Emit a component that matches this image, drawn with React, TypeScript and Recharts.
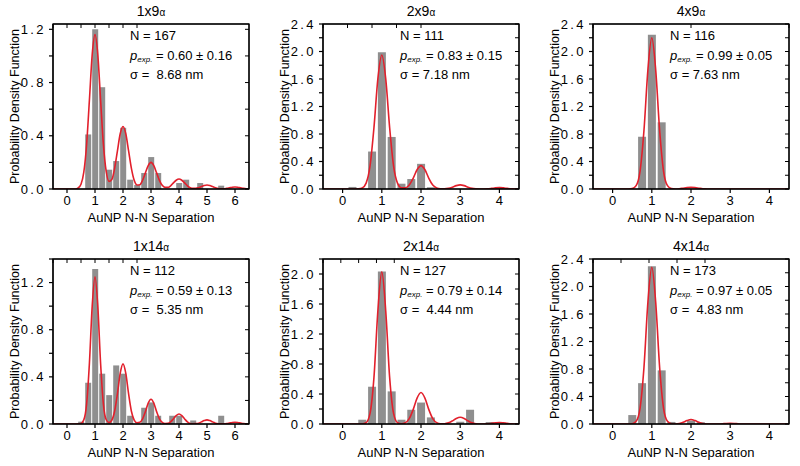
import React from 'react';
import { ComposedChart, Bar, Line, XAxis, YAxis } from 'recharts';

const FONT = '"Liberation Sans", Arial, sans-serif';

// histogram bins (centres) and heights
const bins1x9 = [0.75, 1, 1.25, 1.5, 1.75, 2, 2.25, 2.5, 2.75, 3, 3.25, 4, 4.25, 4.75, 5.5];
const pdf1x9 = [0.41, 1.2, 0.765, 0.145, 0.21, 0.46, 0.07, 0.03, 0.12, 0.24, 0.12, 0.045, 0.07, 0.045, 0.025];
const bins2x9 = [0.25, 0.75, 1, 1.25, 1.5, 1.75, 2, 2.25, 4];
const pdf2x9 = [0.03, 0.545, 1.99, 0.757, 0.077, 0.145, 0.366, 0.025, 0.03];
const bins4x9 = [0.75, 1, 1.25];
const pdf4x9 = [0.76, 2.245, 0.97];
const bins1x14 = [0.5, 0.75, 1, 1.25, 1.5, 1.75, 2, 2.25, 2.75, 3, 3.25, 3.75, 4, 4.5, 5.5];
const pdf1x14 = [0.02, 0.35, 1.315, 0.427, 0.245, 0.497, 0.427, 0.07, 0.138, 0.183, 0.07, 0.07, 0.07, 0.03, 0.07];
const bins2x14 = [0.5, 0.75, 1, 1.25, 1.5, 1.75, 2, 2.25, 3, 3.25, 3.75, 4];
const pdf2x14 = [0.057, 0.497, 2.035, 0.435, 0.057, 0.19, 0.286, 0.088, 0.03, 0.19, 0.026, 0.02];
const bins4x14 = [0.5, 0.75, 1, 1.25, 1.5, 2, 2.25, 3];
const pdf4x14 = [0.13, 0.594, 2.295, 0.78, 0.03, 0.05, 0.025, 0.015];

// fitted curves, [separation, pdf]
const fit1x9 = [[-0.5,0],[0.3,0],[0.4,0.008],[0.5,0.036],[0.6,0.127],[0.7,0.333],[0.8,0.667],[0.9,1.01],[1,1.16],[1.1,1.01],[1.2,0.667],[1.3,0.334],[1.4,0.132],[1.5,0.057],[1.6,0.071],[1.7,0.154],[1.8,0.285],[1.9,0.415],[2,0.47],[2.1,0.415],[2.2,0.286],[2.3,0.155],[2.4,0.065],[2.5,0.03],[2.6,0.032],[2.7,0.066],[2.8,0.121],[2.9,0.176],[3,0.2],[3.1,0.176],[3.2,0.121],[3.3,0.065],[3.4,0.028],[3.5,0.012],[3.6,0.012],[3.7,0.024],[3.8,0.046],[3.9,0.066],[4,0.075],[4.1,0.066],[4.2,0.046],[4.3,0.024],[4.4,0.01],[4.5,0.005],[4.6,0.005],[4.7,0.01],[4.8,0.018],[4.9,0.026],[5,0.03],[5.1,0.026],[5.2,0.018],[5.3,0.01],[5.4,0.004],[5.5,0.002],[5.6,0.002],[5.7,0.005],[5.8,0.009],[5.9,0.013],[6,0.015],[6.1,0.013],[6.2,0.009],[6.3,0.005],[6.4,0.002],[6.5,0.001]];
const fit2x9 = [[-0.5,0],[0.3,0],[0.4,0.002],[0.5,0.015],[0.6,0.086],[0.7,0.335],[0.8,0.893],[0.9,1.605],[1,1.95],[1.1,1.605],[1.2,0.893],[1.3,0.335],[1.4,0.086],[1.5,0.018],[1.6,0.017],[1.7,0.058],[1.8,0.156],[1.9,0.28],[2,0.34],[2.1,0.28],[2.2,0.156],[2.3,0.058],[2.4,0.015],[2.5,0.003],[2.6,0.003],[2.7,0.01],[2.8,0.027],[2.9,0.049],[3,0.06],[3.1,0.049],[3.2,0.027],[3.3,0.01],[3.4,0.003],[3.5,0.001],[3.6,0.001],[3.7,0.003],[3.8,0.009],[3.9,0.016],[4,0.02],[4.1,0.016],[4.2,0.009],[4.3,0.003],[4.5,0]];
const fit4x9 = [[-0.5,0],[0.4,0],[0.5,0.006],[0.6,0.049],[0.7,0.258],[0.8,0.85],[0.9,1.73],[1,2.2],[1.1,1.73],[1.2,0.85],[1.3,0.258],[1.4,0.049],[1.5,0.006],[1.6,0.001],[1.7,0.004],[1.8,0.012],[1.9,0.02],[2,0.024],[2.1,0.02],[2.2,0.012],[2.3,0.004],[2.4,0.001],[2.5,0],[4.5,0]];
const fit1x14 = [[-0.5,0],[0.3,0],[0.4,0.001],[0.5,0.005],[0.6,0.035],[0.7,0.169],[0.8,0.514],[0.9,1.0],[1,1.25],[1.1,1.0],[1.2,0.514],[1.3,0.169],[1.4,0.036],[1.5,0.012],[1.6,0.032],[1.7,0.108],[1.8,0.255],[1.9,0.429],[2,0.51],[2.1,0.429],[2.2,0.255],[2.3,0.108],[2.4,0.033],[2.5,0.01],[2.6,0.014],[2.7,0.044],[2.8,0.105],[2.9,0.177],[3,0.21],[3.1,0.177],[3.2,0.105],[3.3,0.044],[3.4,0.014],[3.5,0.004],[3.6,0.005],[3.7,0.018],[3.8,0.043],[3.9,0.071],[4,0.085],[4.1,0.071],[4.2,0.043],[4.3,0.018],[4.4,0.005],[4.5,0.002],[4.6,0.003],[4.7,0.007],[4.8,0.018],[4.9,0.029],[5,0.035],[5.1,0.029],[5.2,0.018],[5.3,0.007],[5.4,0.002],[5.5,0.001],[5.6,0.001],[5.7,0.003],[5.8,0.008],[5.9,0.013],[6,0.015],[6.1,0.013],[6.2,0.008],[6.3,0.003],[6.4,0.001],[6.5,0]];
const fit2x14 = [[-0.5,0],[0.4,0],[0.5,0.001],[0.6,0.018],[0.7,0.142],[0.8,0.621],[0.9,1.51],[1,2.03],[1.1,1.51],[1.2,0.621],[1.3,0.142],[1.4,0.019],[1.5,0.004],[1.6,0.018],[1.7,0.072],[1.8,0.192],[1.9,0.346],[2,0.42],[2.1,0.346],[2.2,0.192],[2.3,0.072],[2.4,0.018],[2.5,0.004],[2.6,0.004],[2.7,0.015],[2.8,0.041],[2.9,0.074],[3,0.09],[3.1,0.074],[3.2,0.041],[3.3,0.015],[3.4,0.004],[3.5,0.001],[3.6,0.001],[3.7,0.003],[3.8,0.009],[3.9,0.016],[4,0.02],[4.1,0.016],[4.2,0.009],[4.3,0.003],[4.5,0]];
const fit4x14 = [[-0.5,0],[0.4,0],[0.5,0.004],[0.6,0.039],[0.7,0.228],[0.8,0.821],[0.9,1.767],[1,2.28],[1.1,1.767],[1.2,0.821],[1.3,0.228],[1.4,0.039],[1.5,0.004],[1.6,0.001],[1.7,0.008],[1.8,0.025],[1.9,0.051],[2,0.065],[2.1,0.051],[2.2,0.025],[2.3,0.008],[2.4,0.001],[2.6,0],[2.7,0.001],[2.8,0.004],[2.9,0.008],[3,0.01],[3.1,0.008],[3.2,0.004],[3.3,0.001],[3.4,0],[4.5,0]];

// axis ticks
const xTicks6 = [0, 1, 2, 3, 4, 5, 6];
const xTicks4 = [0, 1, 2, 3, 4];
const yTicks12 = [0, 0.2, 0.4, 0.6, 0.8, 1.0, 1.2];
const yTicks14 = [0, 0.2, 0.4, 0.6, 0.8, 1.0, 1.2, 1.4];
const yTicks22 = [0, 0.2, 0.4, 0.6, 0.8, 1.0, 1.2, 1.4, 1.6, 1.8, 2.0, 2.2];
const yTicks24 = [0, 0.2, 0.4, 0.6, 0.8, 1.0, 1.2, 1.4, 1.6, 1.8, 2.0, 2.2, 2.4];

// labels
const names = ['1x9', '2x9', '4x9', '1x14', '2x14', '4x14'];
const counts = [167, 111, 116, 112, 127, 173];
const pExp = ['0.60 ± 0.16', '0.83 ± 0.15', '0.99 ± 0.05', '0.59 ± 0.13', '0.79 ± 0.14', '0.97 ± 0.05'];
const sigmas = ['\u00a08.68 nm', '7.18 nm', '7.63 nm', '\u00a05.35 nm', '\u00a04.44 nm', '\u00a04.83 nm'];

const panels = [
  { bins: bins1x9, pdf: pdf1x9, fit: fit1x9, xMax: 6.5, xTicks: xTicks6, yMax: 1.24, yTicks: yTicks12 },
  { bins: bins2x9, pdf: pdf2x9, fit: fit2x9, xMax: 4.5, xTicks: xTicks4, yMax: 2.4, yTicks: yTicks24 },
  { bins: bins4x9, pdf: pdf4x9, fit: fit4x9, xMax: 4.5, xTicks: xTicks4, yMax: 2.4, yTicks: yTicks24 },
  { bins: bins1x14, pdf: pdf1x14, fit: fit1x14, xMax: 6.5, xTicks: xTicks6, yMax: 1.4, yTicks: yTicks14 },
  { bins: bins2x14, pdf: pdf2x14, fit: fit2x14, xMax: 4.5, xTicks: xTicks4, yMax: 2.2, yTicks: yTicks22 },
  { bins: bins4x14, pdf: pdf4x14, fit: fit4x14, xMax: 4.5, xTicks: xTicks4, yMax: 2.4, yTicks: yTicks24 },
];

const W = 270;
const H = 233;
const ROW = 235;
// plot box inside each panel
const BOX = { left: 53, top: 24, right: 21, bottom: 44 };
const tickStyle = { fontSize: 13, fill: '#000', fontFamily: FONT };

const YTick = (props: any) => {
  const v = props.payload.value;
  if (Math.round(v * 10) % 4 !== 0) return null;
  return (
    <text x={props.x} y={props.y} dy={4.5} textAnchor="end" fontSize={13} fontFamily={FONT}
      fill="#000" style={{ letterSpacing: '2.4px' }}>
      {v.toFixed(1)}
    </text>
  );
};

function Panel({ p, i }: { p: any; i: number }) {
  const left = (i % 3) * W;
  const top = Math.floor(i / 3) * ROW;
  const bars = p.bins.map((x: number, k: number) => ({ x, y: p.pdf[k] }));
  const curve = p.fit.map((d: number[]) => ({ fx: d[0], fy: d[1] }));
  const xDom = [-0.5, p.xMax];
  const yDom = [0, p.yMax];
  return (
    <div style={{ position: 'absolute', left, top, width: W, height: H }}>
      <ComposedChart width={W} height={H} data={bars}
        margin={{ top: BOX.top - 6, right: BOX.right - 6, bottom: BOX.bottom - 30, left: BOX.left - 40 }}>
        <XAxis dataKey="x" type="number" domain={xDom} ticks={p.xTicks} interval={0} allowDataOverflow
          height={30} tickSize={4} tickMargin={3} stroke="#000" strokeWidth={1.2} tick={tickStyle} />
        <XAxis xAxisId="top" orientation="top" type="number" domain={xDom} ticks={p.xTicks} interval={0}
          allowDataOverflow height={6} tickSize={-4} tickFormatter={() => ''} stroke="#000" />
        <XAxis xAxisId="fit" dataKey="fx" type="number" domain={xDom} allowDataOverflow hide />
        <YAxis type="number" domain={yDom} ticks={p.yTicks} interval={0} allowDataOverflow width={40}
          tickSize={4} tickMargin={3} stroke="#000" strokeWidth={1.2} tick={<YTick />} />
        <YAxis yAxisId="right" orientation="right" type="number" domain={yDom} ticks={p.yTicks} interval={0}
          allowDataOverflow width={6} tickSize={-4} tickFormatter={() => ''} stroke="#000" />
        <Bar dataKey="y" fill="#8f8f8f" isAnimationActive={false} />
        <Line xAxisId="fit" data={curve} dataKey="fy" type="monotone" stroke="#e2202c" strokeWidth={1.6}
          dot={false} isAnimationActive={false} />
      </ComposedChart>
    </div>
  );
}

function Labels() {
  const boxW = W - BOX.left - BOX.right;
  const boxH = H - BOX.top - BOX.bottom;
  return (
    <svg width={800} height={466} style={{ position: 'absolute', left: 0, top: 0, pointerEvents: 'none', zIndex: 5 }}
      fontFamily={FONT} fill="#000">
      {names.map((n, i) => {
        const x0 = (i % 3) * W;
        const y0 = Math.floor(i / 3) * ROW;
        return (
          <g key={n}>
            {/* plot frame */}
            <rect x={x0 + BOX.left} y={y0 + BOX.top} width={boxW} height={boxH}
              fill="none" stroke="#000" strokeWidth={1.3} />
            <text x={x0 + 151} y={y0 + 16} fontSize={14} textAnchor="middle">
              {n}<tspan fontSize={10}>α</tspan>
            </text>
            <text x={x0 + 151} y={y0 + 222} fontSize={13} textAnchor="middle">AuNP N-N Separation</text>
            <text transform={`translate(${x0 + 19},${y0 + 106.5}) rotate(-90)`} fontSize={12.5} textAnchor="middle">
              Probability Density Function
            </text>
            <text x={x0 + 130} y={y0 + 40} fontSize={13}>N = {counts[i]}</text>
            <text x={x0 + 130} y={y0 + 59.5} fontSize={13}>
              <tspan fontStyle="italic">p</tspan>
              <tspan fontSize={8} fontStyle="italic" dy={2}>exp.</tspan>
              <tspan dy={-2}>{' = ' + pExp[i]}</tspan>
            </text>
            <text x={x0 + 130} y={y0 + 79} fontSize={13}>σ = {sigmas[i]}</text>
          </g>
        );
      })}
    </svg>
  );
}

export default function App() {
  return (
    <div style={{ position: 'fixed', left: 0, top: 0, width: 800, height: 466, background: '#fff', overflow: 'hidden' }}>
      {panels.map((p, i) => <Panel key={i} p={p} i={i} />)}
      <Labels />
    </div>
  );
}
